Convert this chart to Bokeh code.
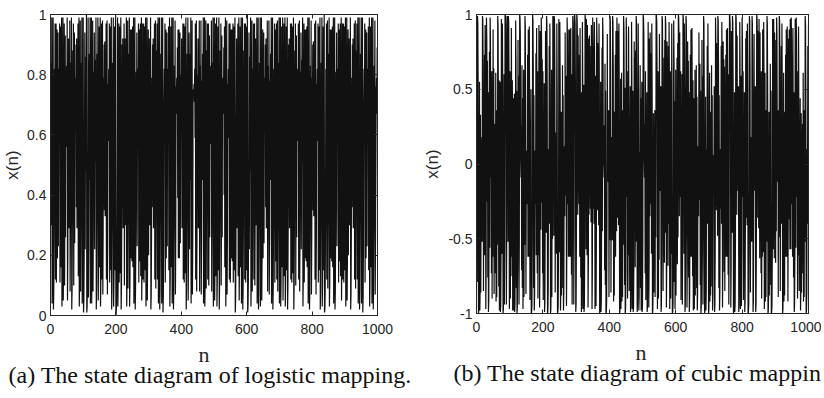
from bokeh.plotting import figure
from bokeh.models import Range1d, FixedTicker, LinearAxis, CustomJSTickFormatter, Title
from bokeh.layouts import row
from bokeh.embed import file_html
from bokeh.resources import INLINE

# ---- data (read/estimated from the reference picture) ----
logistic_x = [
 .30,.84,.54,.99,.04,.15,.51,.99,.02,.08,.29,.82,.59,.97,.12,.42,.97,.11,.39,.95,
 .19,.62,.94,.23,.71,.82,.58,.97,.11,.40,.96,.16,.54,.99,.03,.13,.45,.99,.05,.18,
 .58,.97,.10,.37,.93,.26,.77,.71,.83,.56,.99,.05,.20,.64,.92,.29,.83,.57,.98,.08,
 .30,.84,.53,.99,.02,.09,.33,.88,.42,.97,.10,.37,.94,.24,.73,.79,.66,.90,.36,.92,
 .29,.82,.59,.97,.13,.46,.99,.03,.12,.43,.98,.08,.30,.84,.54,.99,.04,.16,.53,.99,
 .01,.05,.19,.62,.94,.22,.69,.86,.48,1.0,.01,.03,.13,.44,.99,.06,.22,.68,.87,.45,
 .99,.04,.16,.55,.99,.04,.17,.57,.98,.08,.28,.81,.62,.94,.22,.69,.85,.51,.99,.02,
 .09,.32,.87,.44,.99,.05,.18,.60,.96,.16,.53,.99,.03,.12,.41,.97,.12,.43,.98,.07,
 .27,.79,.66,.90,.35,.91,.33,.88,.41,.97,.12,.43,.98,.07,.26,.77,.71,.82,.58,.97,
 .11,.40,.96,.15,.52,.99,.02,.08,.30,.84,.54,.99,.03,.11,.40,.96,.15,.50,1.0,.00,
 .01,.04,.15,.51,.99,.03,.12,.42,.97,.11,.40,.96,.14,.48,.99,.02,.09,.34,.90,.36,
 .92,.29,.82,.58,.97,.10,.36,.92,.30,.84,.54,.99,.03,.12,.42,.98,.09,.32,.87,.46,
 .99,.03,.11,.39,.95,.19,.61,.95,.18,.60,.96,.16,.54,.99,.04,.15,.52,.99,.02,.08,
 .28,.81,.62,.94,.23,.71,.82,.58,.97,.11,.39,.95,.18,.59,.97,.13,.44,.99,.05,.18,
 .59,.97,.12,.42,.97,.11,.40,.96,.15,.51,.99,.03,.13,.45,.99,.05,.19,.61,.95,.20,
 .64,.92,.30,.84,.53,.99,.02,.07,.27,.79,.66,.90,.36,.92,.29,.82,.59,.97,.12,.42,
 .98,.09,.33,.88,.41,.97,.12,.44,.99,.04,.14,.49,.99,.02,.09,.32,.87,.45,.99,.04,
 .15,.51,.99,.01,.06,.23,.71,.82,.58,.97,.11,.39,.95,.19,.62,.94,.23,.71,.82,.60,
 .96,.15,.52,.99,.03,.11,.40,.96,.16,.54,.99,.04,.16,.53,.99,.02,.08,.29,.83,.56,
 .98,.07,.26,.76,.73,.79,.67,.89,.39,.95,.19,.61,.95,.19,.62,.94,.24,.72,.80,.64,
 .92,.29,.82,.59,.97,.12,.42,.97,.11,.40,.96,.14,.49,.99,.02,.09,.32,.87,.45,.99,
 .05,.19,.62,.94,.22,.68,.87,.45,.99,.04,.17,.56,.98,.07,.25,.75,.75,.74,.77,.71,
 .82,.59,.97,.12,.43,.98,.08,.28,.80,.64,.92,.29,.83,.57,.98,.08,.29,.83,.56,.98,
 .07,.27,.78,.68,.87,.45,.99,.04,.15,.51,.99,.03,.12,.42,.98,.09,.33,.88,.42,.97,
 .12,.42,.97,.10,.37,.93,.26,.77,.71,.83,.57,.98,.08,.30,.84,.54,.99,.03,.13,.45,
 .99,.05,.18,.59,.97,.13,.46,.99,.03,.11,.40,.96,.15,.52,.99,.02,.09,.33,.88,.42,
 .97,.10,.37,.93,.26,.76,.73,.79,.67,.89,.40,.96,.16,.53,.99,.03,.12,.43,.98,.07,
 .26,.77,.71,.82,.59,.97,.12,.42,.97,.11,.39,.95,.19,.61,.95,.18,.58,.97,.11,.40,
 .96,.15,.51,.99,.01,.05,.20,.64,.92,.29,.82,.59,.97,.13,.45,.99,.05,.18,.60,.96,
 .16,.54,.99,.04,.15,.51,.99,.02,.09,.33,.88,.42,.97,.12,.42,.97,.11,.40,.96,.15,
 .50,1.0,.01,.03,.11,.38,.94,.22,.69,.86,.48,.99,.03,.12,.43,.98,.08,.29,.82,.59,
 .97,.12,.42,.97,.10,.36,.92,.30,.84,.53,.99,.04,.15,.52,.99,.02,.08,.30,.84,.55,
 .99,.03,.13,.45,.99,.05,.19,.61,.95,.19,.62,.94,.24,.73,.79,.66,.90,.36,.92,.29,
 .83,.57,.98,.08,.29,.83,.56,.98,.07,.27,.78,.68,.87,.45,.99,.04,.16,.53,.99,.02,
 .08,.29,.82,.58,.97,.11,.39,.95,.18,.59,.97,.12,.43,.98,.08,.30,.84,.54,.99,.04,
 .15,.52,.99,.03,.11,.40,.96,.16,.54,.99,.05,.18,.59,.97,.13,.46,.99,.03,.11,.40,
 .96,.15,.51,.99,.02,.09,.34,.90,.36,.92,.29,.82,.59,.97,.12,.42,.97,.11,.40,.96,
 .14,.48,.99,.02,.09,.33,.88,.42,.97,.10,.37,.93,.26,.77,.71,.82,.58,.97,.12,.43,
 .98,.08,.28,.81,.62,.94,.22,.69,.85,.51,.99,.03,.12,.42,.97,.11,.39,.95,.19,.61,
 .95,.18,.60,.96,.16,.54,.99,.04,.15,.51,.99,.02,.08,.29,.83,.56,.98,.07,.27,.79,
 .66,.90,.35,.91,.33,.88,.41,.97,.12,.43,.98,.07,.26,.77,.71,.82,.58,.97,.11,.40,
 .96,.15,.52,.99,.02,.08,.30,.84,.54,.99,.03,.11,.40,.96,.15,.50,1.0,.01,.02,.08,
 .29,.82,.59,.97,.12,.42,.98,.09,.32,.87,.46,.99,.03,.11,.39,.95,.19,.61,.95,.18,
 .60,.96,.16,.54,.99,.04,.15,.52,.99,.02,.08,.28,.81,.62,.94,.23,.71,.82,.58,.97,
 .11,.39,.95,.18,.59,.97,.13,.44,.99,.05,.18,.59,.97,.12,.42,.97,.11,.40,.96,.15,
 .51,.99,.03,.13,.45,.99,.05,.19,.61,.95,.20,.64,.92,.30,.84,.53,.99,.02,.07,.27,
 .79,.66,.90,.36,.92,.29,.82,.59,.97,.12,.42,.98,.09,.33,.88,.41,.97,.12,.44,.99,
 .04,.14,.49,.99,.02,.09,.32,.87,.45,.99,.04,.15,.51,.99,.01,.06,.23,.71,.82,.58,
 .97,.11,.39,.95,.19,.62,.94,.23,.71,.82,.60,.96,.15,.52,.99,.03,.11,.40,.96,.16,
 .54,.99,.04,.16,.53,.99,.02,.08,.29,.83,.56,.98,.07,.26,.76,.73,.79,.67,.89,.39,
]

cubic_x = [
 .30,-.79,.99,.94,.50,-1.0,-.98,-.82,.55,-.98,-.84,.33,-.86,.02,-.06,.18,-.52,.99,.96,.65,
 -.85,.09,-.27,.73,-.61,.93,.44,-.97,-.71,.98,.82,-.25,.69,-.76,.48,-.99,-.91,-.28,.75,-.56,
 .98,.85,-.09,.27,-.73,.62,-.90,.22,-.62,.90,-.23,.64,-.87,.03,-.09,.27,-.73,.61,-.92,.36,
 -.89,.19,-.54,.99,.92,.32,-.82,.56,-.98,-.82,.55,-.99,-.95,-.58,.97,.74,-.60,.94,.50,-1.0,
 -.97,-.74,.60,-.94,-.51,1.0,.99,.93,.40,-.94,-.48,.99,.97,.76,-.52,.99,.95,.58,-.97,-.74,
 .62,-.90,.22,-.62,.91,.28,-.75,.56,-.98,-.83,.44,-.98,-.83,.47,-.99,-.93,-.42,.96,.66,-.83,
 .49,-1.0,-.96,-.66,.83,-.21,.59,-.94,-.50,1.0,.98,.87,.03,-.09,.26,-.71,.66,-.83,.44,-.97,
 -.73,.63,-.89,.19,-.54,.99,.92,.36,-.87,.01,-.03,.09,-.27,.73,-.62,.90,.22,-.62,.92,.37,
 -.91,.31,-.81,.50,-1.0,-.99,-.94,-.50,1.0,.96,.66,-.83,.46,-.98,-.87,-.03,.09,-.27,.74,-.61,
 .91,.27,-.73,.62,-.90,.22,-.61,.93,.42,-.96,-.68,.89,.15,-.44,.98,.82,-.26,.70,-.73,.62,
 -.91,.29,-.78,.54,-.99,-.92,-.36,.89,.16,-.46,.99,.94,.51,-1.0,-.98,-.85,.10,-.30,.79,-.40,
 .94,.49,-1.0,-.97,-.73,.63,-.89,.17,-.50,.99,.97,.77,-.48,.99,.96,.64,-.86,.02,-.07,.21,
 -.60,.94,.51,-1.0,-.99,-.95,-.57,.97,.74,-.59,.95,.56,-.98,-.84,.35,-.88,.08,-.24,.66,-.83,
 .46,-.98,-.86,-.04,.12,-.35,.88,.07,-.21,.59,-.95,-.58,.98,.82,-.27,.73,-.62,.90,.22,-.62,
 .90,.22,-.62,.91,.27,-.74,.60,-.94,-.49,.99,.95,.60,-.94,-.50,1.0,.99,.94,.47,-.99,-.94,
 -.49,1.0,.98,.84,-.34,.86,-.03,.09,-.27,.73,-.62,.91,.28,-.76,.48,-.99,-.95,-.59,.95,.57,
 -.97,-.77,.53,-.99,-.94,-.51,1.0,.97,.75,-.57,.97,.74,-.61,.93,.41,-.96,-.65,.84,-.34,.86,
 -.03,.10,-.30,.79,-.39,.93,.42,-.97,-.71,.98,.81,-.30,.79,-.40,.95,.57,-.97,-.75,.59,-.95,
 -.58,.98,.81,-.31,.81,-.30,.79,-.41,.94,.50,-1.0,-.98,-.82,.55,-.99,-.91,-.29,.78,-.45,.98,
 .86,-.01,.03,-.09,.26,-.71,.67,-.81,.49,-1.0,-.99,-.92,-.35,.87,-.01,.04,-.12,.36,-.89,.17,
 -.51,.99,.96,.64,-.86,.02,-.06,.18,-.51,.99,.95,.61,-.92,.35,-.88,.09,-.27,.73,-.62,.89,
 .16,-.45,.98,.84,-.36,.89,.14,-.41,.94,.49,-1.0,-.98,-.82,.57,-.97,-.74,.61,-.92,.36,-.89,
 .19,-.54,.99,.92,.31,-.81,.51,-1.0,-.97,-.71,.98,.83,-.22,.62,-.90,.22,-.61,.92,.34,-.85,
 .06,-.18,.52,-.99,-.95,-.59,.95,.57,-.97,-.76,.49,-.99,-.96,-.66,.82,-.26,.71,-.69,.76,-.52,
 .99,.94,.48,-.99,-.93,-.40,.94,.46,-.98,-.88,.08,-.24,.66,-.83,.44,-.98,-.82,.55,-.99,-.94,
 -.50,1.0,.98,.87,.03,-.09,.27,-.73,.62,-.91,.28,-.76,.48,-.99,-.95,-.59,.95,.58,-.96,-.65,
 .84,-.35,.88,.09,-.27,.74,-.60,.94,.50,-1.0,-.98,-.84,.34,-.86,.04,-.12,.36,-.89,.17,-.49,
 1.0,.99,.95,.57,-.97,-.73,.62,-.90,.23,-.64,.87,-.02,.06,-.18,.52,-.99,-.94,-.49,.99,.96,
 .65,-.85,.09,-.26,.71,-.66,.83,-.46,.99,.93,.41,-.96,-.66,.82,-.26,.71,-.68,.79,-.40,.95,
 .57,-.97,-.74,.62,-.90,.21,-.60,.94,.49,-1.0,-.99,-.93,-.43,.96,.68,-.79,.42,-.97,-.73,.63,
 -.88,.09,-.26,.71,-.67,.81,-.49,1.0,.98,.84,-.35,.88,.07,-.22,.62,-.91,.27,-.74,.60,-.94,
 -.51,1.0,.97,.74,-.60,.94,.51,-.99,-.94,-.48,.99,.95,.58,-.96,-.66,.82,-.25,.69,-.76,.48,
 -.99,-.91,-.27,.73,-.62,.90,.22,-.62,.91,.28,-.75,.56,-.98,-.83,.44,-.97,-.73,.63,-.88,.08,
 -.24,.66,-.83,.45,-.98,-.86,-.04,.12,-.35,.88,.08,-.24,.67,-.81,.49,-1.0,-.96,-.66,.83,-.21,
 .59,-.94,-.49,.99,.94,.50,-1.0,-.98,-.83,.45,-.98,-.85,.10,-.30,.79,-.40,.94,.49,-1.0,-.97,
 -.72,.61,-.92,.35,-.88,.08,-.24,.66,-.82,.46,-.98,-.87,-.02,.06,-.18,.52,-.99,-.95,-.58,.98,
 .81,-.31,.81,-.28,.76,-.48,.99,.96,.66,-.83,.46,-.98,-.86,-.03,.10,-.30,.79,-.40,.95,.58,
 -.96,-.66,.82,-.26,.70,-.72,.65,-.85,.09,-.27,.73,-.62,.90,.22,-.62,.91,.27,-.74,.60,-.94,
 -.50,1.0,.99,.93,.42,-.96,-.68,.89,.16,-.46,.99,.94,.50,-1.0,-.97,-.76,.48,-.99,-.94,-.51,
 1.0,.98,.84,-.34,.86,-.02,.06,-.18,.52,-.99,-.95,-.59,.95,.58,-.97,-.75,.59,-.95,-.56,.98,
 .83,-.22,.62,-.91,.28,-.76,.48,-.99,-.92,-.33,.84,-.36,.89,.14,-.41,.94,.50,-1.0,-.99,-.94,
 -.49,.99,.96,.64,-.86,.02,-.06,.18,-.52,.99,.94,.48,-.99,-.92,-.35,.87,-.02,.06,-.18,.52,
 -.99,-.94,-.51,1.0,.98,.84,-.36,.89,.15,-.43,.97,.73,-.63,.88,-.09,.27,-.73,.62,-.90,.22,
 -.62,.90,.21,-.59,.95,.58,-.97,-.74,.61,-.92,.36,-.89,.18,-.52,.99,.94,.49,-1.0,-.98,-.84,
 .35,-.88,.08,-.24,.67,-.81,.49,-1.0,-.99,-.95,-.57,.97,.75,-.57,.97,.73,-.63,.88,-.08,.24,
 -.66,.83,-.45,.98,.86,.04,-.12,.36,-.89,.17,-.49,.99,.96,.65,-.85,.10,-.30,.79,-.40,.94,
 .49,-1.0,-.97,-.72,.61,-.92,.35,-.88,.09,-.27,.73,-.62,.90,.22,-.62,.92,.38,-.92,-.33,.84,
 -.37,.90,.20,-.57,.97,.75,-.57,.98,.82,-.27,.73,-.62,.91,.28,-.76,.48,-.99,-.95,-.58,.97,
 .75,-.56,.98,.83,-.22,.62,-.90,.22,-.61,.92,.34,-.85,.05,-.15,.44,-.98,-.84,.34,-.86,.03,
 -.09,.27,-.73,.61,-.92,.36,-.89,.18,-.52,.99,.94,.49,-1.0,-.98,-.85,.10,-.30,.79,-.40,.93,
]

n_index = list(range(1, len(logistic_x) + 1))
x_ticks = [0, 200, 400, 600, 800, 1000]
logistic_ticks = [0, 0.2, 0.4, 0.6, 0.8, 1]
cubic_ticks = [-1, -0.5, 0, 0.5, 1]
x_label = "n"
y_label = "x(n)"
captions = ["(a) The state diagram of logistic mapping.",
            "(b) The state diagram of cubic mapping"]

AXIS_C = "#262626"
LINE_C = "#111111"
SANS = "Liberation Sans"
SERIF = "Liberation Serif"


def style_axis(ax, ticker, show_labels):
    ax.ticker = FixedTicker(ticks=ticker)
    ax.formatter = CustomJSTickFormatter(code="return tick.toString();")
    ax.major_tick_in = 4
    ax.major_tick_out = 0
    ax.minor_tick_line_color = None
    ax.major_tick_line_color = AXIS_C
    ax.axis_line_color = AXIS_C
    ax.major_label_text_font = SANS
    if show_labels:
        ax.major_label_text_color = AXIS_C
        ax.major_label_text_font_size = "14px"
        ax.major_label_standoff = 4
    else:
        ax.major_label_text_color = None
        ax.major_label_text_font_size = "1px"
        ax.major_label_standoff = 0


def make_panel(values, yticks, ymin, ymax, caption, fw, fh, bl, br, bt, bb,
               n_off, cap_off, ylab_standoff):
    p = figure(frame_width=fw, frame_height=fh,
               x_range=Range1d(0, 1000), y_range=Range1d(ymin, ymax),
               output_backend="svg", toolbar_location=None,
               min_border_left=bl, min_border_right=br,
               min_border_top=bt, min_border_bottom=bb,
               background_fill_color="white", border_fill_color="white")
    p.xgrid.visible = False
    p.ygrid.visible = False
    p.outline_line_color = AXIS_C
    p.outline_line_width = 1

    p.line(n_index, values, line_color=LINE_C, line_width=1.2)

    style_axis(p.xaxis[0], x_ticks, True)
    p.xaxis[0].major_label_standoff = 8
    style_axis(p.yaxis[0], yticks, True)
    p.yaxis[0].axis_label = y_label
    p.yaxis[0].axis_label_text_font = SANS
    p.yaxis[0].axis_label_text_font_style = "normal"
    p.yaxis[0].axis_label_text_font_size = "17px"
    p.yaxis[0].axis_label_text_color = AXIS_C
    p.yaxis[0].axis_label_standoff = ylab_standoff

    top_ax = LinearAxis()
    style_axis(top_ax, x_ticks, False)
    p.add_layout(top_ax, "above")
    right_ax = LinearAxis()
    style_axis(right_ax, yticks, False)
    p.add_layout(right_ax, "right")

    t_n = Title(text=x_label, align="left", offset=n_off,
                text_font=SERIF, text_font_size="22px",
                text_font_style="normal", text_color=AXIS_C,
                vertical_align="bottom", standoff=6)
    p.add_layout(t_n, "below")
    t_c = Title(text=caption, align="left", offset=cap_off,
                text_font=SERIF, text_font_size="24px",
                text_font_style="normal", text_color="#111111",
                vertical_align="top", standoff=-16)
    p.add_layout(t_c, "below")
    return p


p1 = make_panel(logistic_x, logistic_ticks, 0, 1, captions[0],
                327, 301, 42, 43, 13, 78, 148, -42, 2)
p2 = make_panel(cubic_x, cubic_ticks, -1, 1, captions[1],
                332, 299, 51, 13, 14, 79, 159, -23, 3)

layout = row(p1, p2)
open("out.html", "w").write(file_html(layout, INLINE))
